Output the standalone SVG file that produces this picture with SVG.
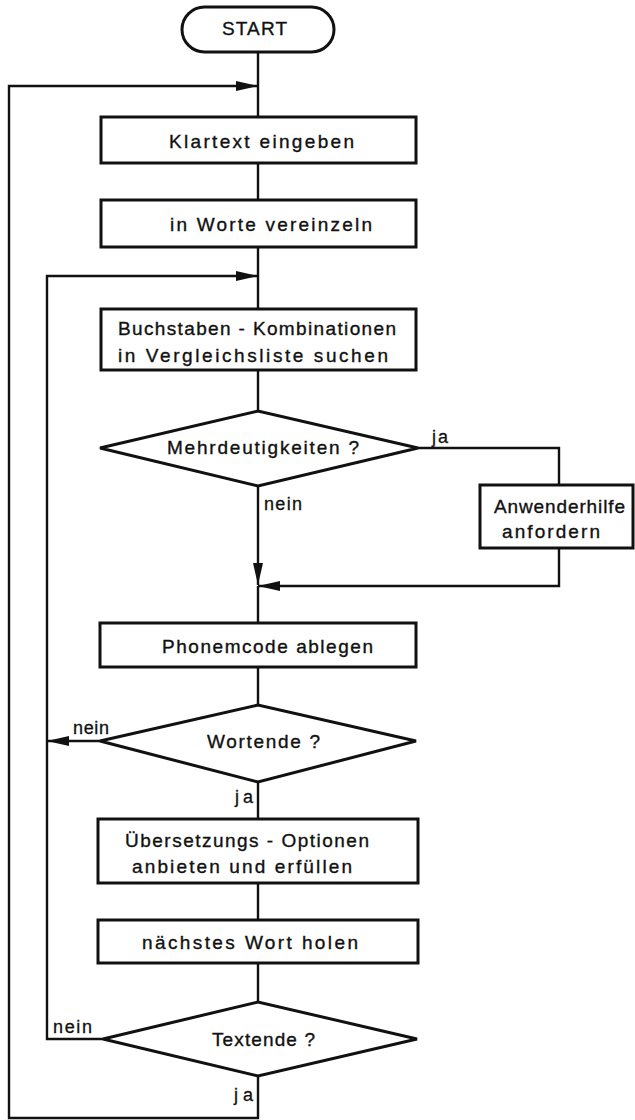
<svg xmlns="http://www.w3.org/2000/svg" width="635" height="1120" viewBox="0 0 635 1120">
<style>
.box{fill:#fff;stroke:#111;stroke-width:3}
.con{fill:none;stroke:#111;stroke-width:2.4}
.t{font-family:"Liberation Sans","DejaVu Sans",sans-serif;font-size:19px;fill:#111;stroke:#111;stroke-width:0.35;text-anchor:start}
.l{font-family:"Liberation Sans","DejaVu Sans",sans-serif;font-size:18px;fill:#111;stroke:#111;stroke-width:0.3;text-anchor:start}
</style>
<defs>
<marker id="arr" markerUnits="userSpaceOnUse" markerWidth="22" markerHeight="10" refX="22" refY="5" orient="auto">
<path d="M0,0 L22,5 L0,10 z" fill="#111"/>
</marker>
</defs>
<rect width="635" height="1120" fill="#fff"/>
<g id="connectors">
<path class="con" d="M258,52 V117"/>
<path class="con" d="M258,1076 V1118 H9 V86 H258" marker-end="url(#arr)"/>
<path class="con" d="M258,163 V200"/>
<path class="con" d="M258,247 V309"/>
<path class="con" d="M103,1039 H47 V276 H258" marker-end="url(#arr)"/>
<path class="con" d="M258,370 V411"/>
<path class="con" d="M418,448 H559 V485"/>
<path class="con" d="M559,548 V586 H258" marker-end="url(#arr)"/>
<path class="con" d="M258,486 V585" marker-end="url(#arr)"/>
<path class="con" d="M258,586 V623"/>
<path class="con" d="M258,667 V705"/>
<path class="con" d="M100,741 H47" marker-end="url(#arr)"/>
<path class="con" d="M258,782 V819"/>
<path class="con" d="M258,883 V920"/>
<path class="con" d="M258,963 V1002"/>
<text class="l" x="432" y="443" textLength="16">ja</text>
<text class="l" x="264" y="510" textLength="38">nein</text>
<text class="l" x="73" y="734" textLength="36">nein</text>
<text class="l" x="235" y="803" textLength="18">ja</text>
<text class="l" x="53" y="1033" textLength="39">nein</text>
<text class="l" x="234" y="1101" textLength="19">ja</text>
</g>
<g id="start">
<rect class="box" x="182" y="7" width="152" height="45" rx="22.5"/>
<text class="t" x="222" y="35" textLength="65">START</text>
</g>
<g id="klartext">
<rect class="box" x="101" y="117" width="315" height="46"/>
<text class="t" x="169" y="148" textLength="185">Klartext eingeben</text>
</g>
<g id="vereinzeln">
<rect class="box" x="101" y="200" width="315" height="47"/>
<text class="t" x="170" y="231" textLength="202">in Worte vereinzeln</text>
</g>
<g id="suchen">
<rect class="box" x="101" y="309" width="315" height="61"/>
<text class="t" x="118" y="335" textLength="278">Buchstaben - Kombinationen</text>
<text class="t" x="118" y="362" textLength="270">in Vergleichsliste suchen</text>
</g>
<g id="mehrdeutig">
<polygon class="box" points="100,448 258,411 418,448 258,486"/>
<text class="t" x="167" y="454" textLength="192">Mehrdeutigkeiten ?</text>
</g>
<g id="anwenderhilfe">
<rect class="box" x="480" y="485" width="153" height="63"/>
<text class="t" x="494" y="513" textLength="131">Anwenderhilfe</text>
<text class="t" x="502" y="538" textLength="98">anfordern</text>
</g>
<g id="phonemcode">
<rect class="box" x="100" y="623" width="316" height="44"/>
<text class="t" x="162" y="653" textLength="211">Phonemcode ablegen</text>
</g>
<g id="wortende">
<polygon class="box" points="100,741 258,705 416,741 258,782"/>
<text class="t" x="207" y="748" textLength="113">Wortende ?</text>
</g>
<g id="optionen">
<rect class="box" x="98" y="819" width="320" height="64"/>
<text class="t" x="125" y="847" textLength="244">Übersetzungs - Optionen</text>
<text class="t" x="132" y="873" textLength="220">anbieten und erfüllen</text>
</g>
<g id="naechstes">
<rect class="box" x="98" y="920" width="320" height="43"/>
<text class="t" x="142" y="949" textLength="216">nächstes Wort holen</text>
</g>
<g id="textende">
<polygon class="box" points="103,1039 258,1002 417,1039 258,1076"/>
<text class="t" x="212" y="1046" textLength="103">Textende ?</text>
</g>
</svg>
